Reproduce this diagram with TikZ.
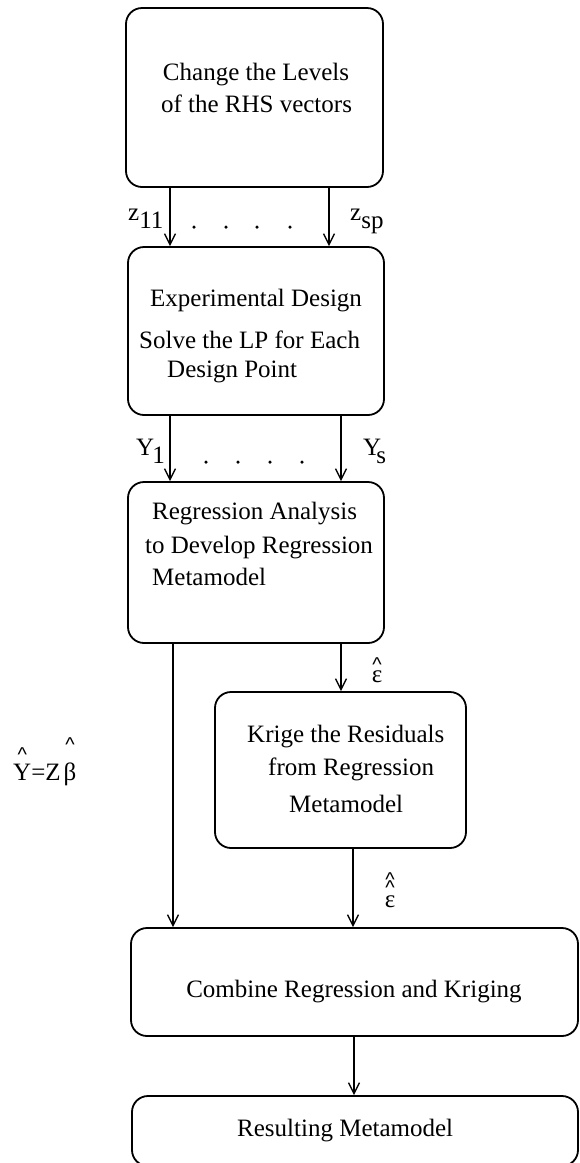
\documentclass[tikz,border=0pt]{standalone}
\usepackage{fontspec}
\setmainfont{Liberation Serif}
\newfontfamily\hatfont{Liberation Sans}
\usetikzlibrary{arrows.meta}
\newcommand\hatglyph{{\hatfont\fontsize{20}{20}\selectfont\char"5E}}
\newcommand\hatover[2]{\ooalign{\hidewidth\raisebox{#1}{\hatglyph}\hidewidth\cr#2\cr}}
\newcommand\dhatover[3]{\ooalign{\hidewidth\raisebox{#1}{\hatglyph}\hidewidth\cr\hidewidth\raisebox{#2}{\hatglyph}\hidewidth\cr#3\cr}}
\begin{document}
\begin{tikzpicture}[x=1pt,y=-1pt,
  box/.style={draw, line width=1.8pt, rounded corners=16pt, inner sep=0pt},
  txt/.style={font=\fontsize{25}{30}\selectfont, inner sep=0pt},
  arr/.style={line width=1.3pt, -{Straight Barb[length=11pt,width=11pt,line width=1.3pt]}},
  dot/.style={circle, fill, inner sep=0pt, minimum size=3.5pt}]
\useasboundingbox (0,0) rectangle (579,1163);
% boxes
\node[box, minimum width=257pt, minimum height=179pt] (b1) at (254.5,97.5) {};
\node[box, minimum width=256pt, minimum height=168pt] (b2) at (256,331) {};
\node[box, minimum width=256pt, minimum height=161pt] (b3) at (256,562.5) {};
\node[box, minimum width=251pt, minimum height=156pt] (b4) at (340.5,770) {};
\node[box, minimum width=447pt, minimum height=108pt] (b5) at (354.5,982) {};
\node[box, minimum width=446pt, minimum height=70pt] (b6) at (355,1131) {};
% box texts
\node[txt, anchor=base] (t1a) at (256,80) {Change the Levels};
\node[txt, anchor=base] (t1b) at (256.5,112) {of the RHS vectors};
\node[txt, anchor=base west] (t2a) at (150,306) {Experimental Design};
\node[txt, anchor=base west] (t2b) at (139,348) {Solve the LP for Each};
\node[txt, anchor=base west] (t2c) at (167,377) {Design Point};
\node[txt, anchor=base west] (t3a) at (152,519) {Regression Analysis};
\node[txt, anchor=base west] (t3b) at (145,553) {to Develop Regression};
\node[txt, anchor=base west] (t3c) at (152,585) {Metamodel};
\node[txt, anchor=base west] (t4a) at (247,742) {Krige the Residuals};
\node[txt, anchor=base west] (t4b) at (268,775) {from Regression};
\node[txt, anchor=base west] (t4c) at (289,812) {Metamodel};
\node[txt, anchor=base] (t5) at (354,997) {Combine Regression and Kriging};
\node[txt, anchor=base west] (t6) at (237,1136) {Resulting Metamodel};
% x positions of connectors
\coordinate (xa) at (170,0);
\coordinate (xb) at (329,0);
\coordinate (xc) at (341,0);
\coordinate (xd) at (173,0);
\coordinate (xe) at (353,0);
\coordinate (xf) at (354,0);
% connectors
\draw[arr] (b1.south -| xa) -- (b2.north -| xa);
\draw[arr] (b1.south -| xb) -- (b2.north -| xb);
\draw[arr] (b2.south -| xa) -- (b3.north -| xa);
\draw[arr] (b2.south -| xc) -- (b3.north -| xc);
\draw[arr] (b3.south -| xc) -- (b4.north -| xc);
\draw[arr] (b3.south -| xd) -- (b5.north -| xd);
\draw[arr] (b4.south -| xe) -- (b5.north -| xe);
\draw[arr] (b5.south -| xf) -- (b6.north -| xf);
% dots
\node[dot] (d1) at (194,227) {};
\node[dot] (d2) at (226,227) {};
\node[dot] (d3) at (257,227) {};
\node[dot] (d4) at (290,227) {};
\node[dot] (d5) at (206,462) {};
\node[dot] (d6) at (238,462) {};
\node[dot] (d7) at (270,462) {};
\node[dot] (d8) at (302,462) {};
% labels
\node[txt, anchor=base west] (lz1) at (128,220) {z\raisebox{-8pt}{11}};
\node[txt, anchor=base west] (lz2) at (350,220) {z\raisebox{-8pt}{sp}};
\node[txt, anchor=base west] (ly1) at (136,455) {Y\kern-2pt\raisebox{-8pt}{1}};
\node[txt, anchor=base west] (ly2) at (363,455) {Y\kern-5pt\raisebox{-8pt}{s}};
\node[txt, anchor=base] (e1) at (377,682) {\hatover{10.4pt}{ε}};
\node[txt, anchor=base] (e2) at (390,907) {\dhatover{21pt}{13pt}{ε}};
\node[txt, anchor=base west] (ly) at (13,780) {\hatover{18.4pt}{Y}=Z\hspace{3pt}\hatover{28.4pt}{β}};
\end{tikzpicture}
\end{document}
